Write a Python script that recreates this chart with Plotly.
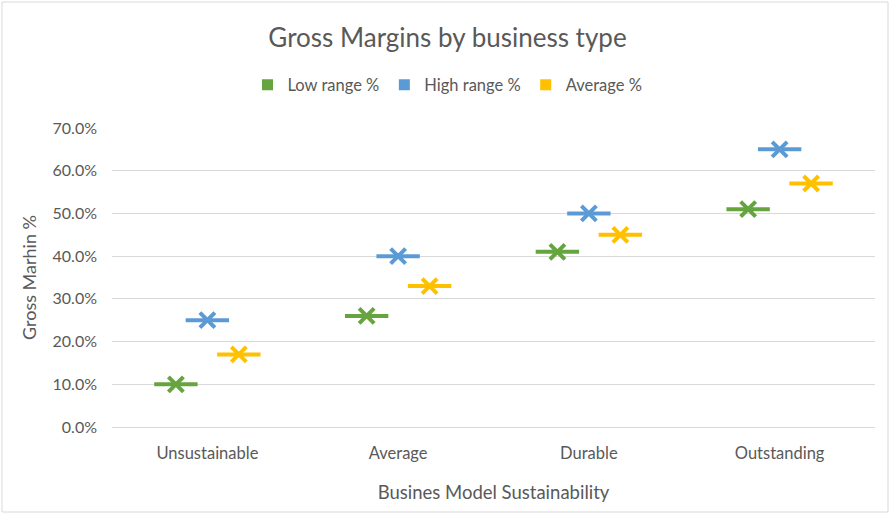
import plotly.graph_objects as go

categories = ["Unsustainable", "Average", "Durable", "Outstanding"]
series_names = ["Low range %", "High range %", "Average %"]
low_range = [10, 26, 41, 51]
high_range = [25, 40, 50, 65]
average = [17, 33, 45, 57]
series_values = [low_range, high_range, average]
colors = ["#66A43F", "#5B9BD5", "#FFC000"]
offsets = [-0.165, 0.0, 0.165]

W, H = 895, 519
L, R, T, B = 112, 20, 128, 92
PW, PH = W - L - R, H - T - B

fig = go.Figure()
for name, vals, col, off in zip(series_names, series_values, colors, offsets):
    xs = [i + off for i in range(len(categories))]
    ys = [v / 100 for v in vals]
    fig.add_trace(go.Scatter(x=xs, y=ys, mode="markers", showlegend=False,
                             marker=dict(symbol="line-ew-open", size=31, color=col,
                                         line=dict(color=col, width=4)),
                             hoverinfo="skip"))
    fig.add_trace(go.Scatter(x=xs, y=ys, mode="markers", showlegend=False, name=name,
                             marker=dict(symbol="x-thin-open", size=15, color=col,
                                         line=dict(color=col, width=4))))
    fig.add_trace(go.Scatter(x=[None], y=[None], mode="markers", name=name,
                             marker=dict(symbol="square", size=11, color=col)))

fig.update_layout(
    width=W, height=H,
    margin=dict(l=L, r=R, t=T, b=B, autoexpand=False),
    paper_bgcolor="white", plot_bgcolor="white",
    font=dict(family="Lato, Open Sans, sans-serif", size=16, color="#595959"),
    title=dict(text="Gross Margins by business type", x=0.5, xanchor="center",
               xref="container", y=1 - 38 / H, yanchor="middle",
               font=dict(size=26, color="#595959")),
    legend=dict(orientation="h", x=(W / 2 - L) / PW, xanchor="center",
                y=1 + (T - 85) / PH, yanchor="middle",
                font=dict(size=16.5, color="#595959"),
                itemwidth=30, tracegroupgap=0),
    xaxis=dict(range=[-0.5, len(categories) - 0.5], tickmode="array",
               tickvals=list(range(len(categories))), ticktext=categories,
               showgrid=False, zeroline=False, showline=False, ticks="",
               ticklabelstandoff=14, automargin=False,
               tickfont=dict(size=16.5),
               title=dict(text="Busines Model Sustainability", standoff=24,
                          font=dict(size=18.5, color="#595959"))),
    yaxis=dict(range=[0, 0.7], dtick=0.1, tickformat=".1%",
               showgrid=True, gridcolor="#D9D9D9", gridwidth=1,
               zeroline=True, zerolinecolor="#D9D9D9", zerolinewidth=1,
               ticks="", ticklabelstandoff=14, automargin=False,
               title=dict(text="Gross Marhin %", standoff=11,
                          font=dict(size=18, color="#595959"))),
)

# outer chart border
fig.add_shape(type="rect", xref="paper", yref="paper",
              x0=-(L - 2) / PW, x1=1 + (R - 7) / PW,
              y0=-(B - 7) / PH, y1=1 + (T - 2) / PH,
              line=dict(color="#D9D9D9", width=1), layer="below")

fig.write_html("out.html", config={"displayModeBar": False},
               post_script="document.body.style.margin='0';document.body.style.padding='0';")
